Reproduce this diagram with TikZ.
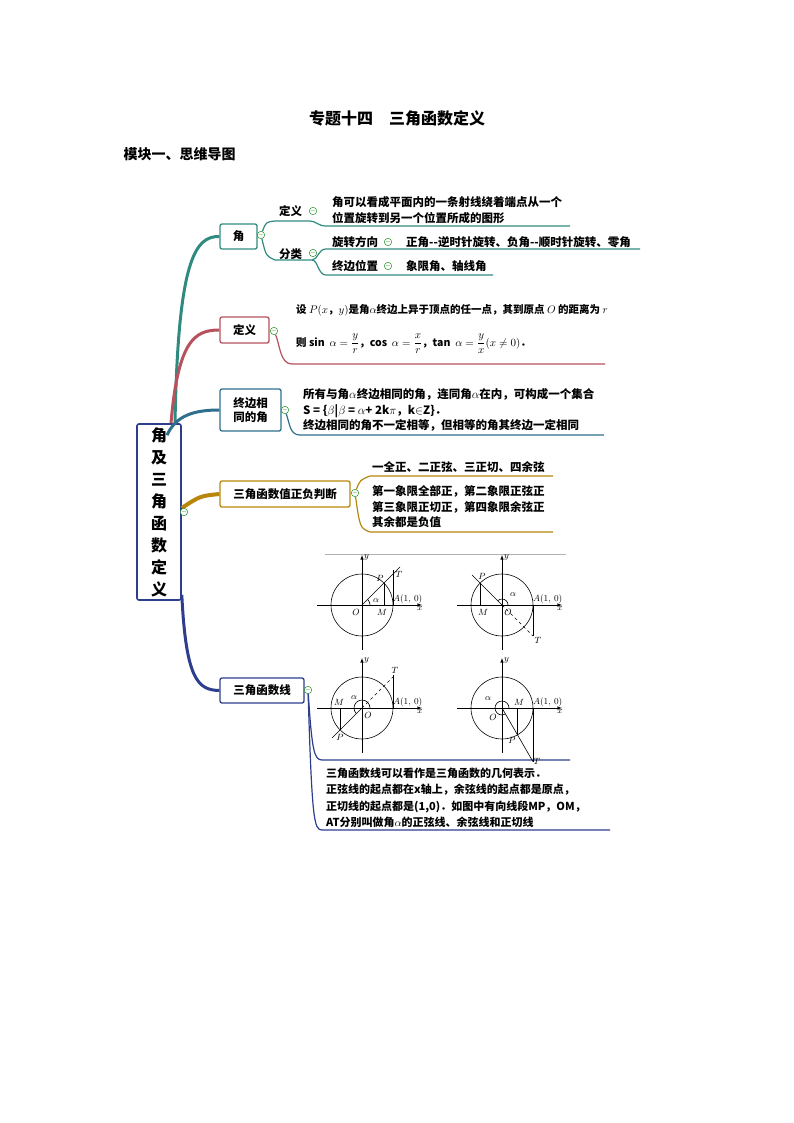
\documentclass[tikz,border=0pt]{standalone}
\usepackage{fontspec}
\setmainfont{Noto Sans CJK SC}
\usepackage{amsmath}
\begin{document}
\begin{tikzpicture}[x=1pt,y=-1pt,
  box/.style={draw=#1,line width=1.3pt,rounded corners=2pt,inner sep=0pt,font=\fontsize{11.5}{14}\selectfont\bfseries},
  col/.style={circle,draw=green!50!black,fill=white,inner sep=0pt,minimum size=7pt,line width=0.4pt,font=\fontsize{6}{6}\selectfont,text=green!50!black},
  txt/.style={anchor=west,inner sep=0pt,font=\fontsize{11.5}{15.5}\selectfont\bfseries},
  geo/.style={line width=0.6pt},
  gl/.style={font=\fontsize{9}{9}\selectfont,inner sep=1pt}]
\definecolor{teal1}{HTML}{2F8A80}
\definecolor{red1}{HTML}{B5525E}
\definecolor{blu1}{HTML}{2E6F8E}
\definecolor{gold1}{HTML}{B8860B}
\definecolor{navy1}{HTML}{2C3E8C}
\useasboundingbox (0,0) rectangle (794,1123);
\node[font=\fontsize{16}{18}\selectfont\bfseries] (title) at (397,118) {专题十四\quad 三角函数定义};
\node[anchor=west,font=\fontsize{14}{16}\selectfont\bfseries] (mod) at (120,154) {模块一、思维导图};
% root
\node[draw=navy1,line width=1.6pt,rounded corners=2pt,minimum width=44pt,minimum height=168pt,align=center,font=\fontsize{16}{22}\selectfont\bfseries] (root) at (159,512) {角\\及\\三\\角\\函\\数\\定\\义};
% boxes
\node[box=teal1,minimum width=37pt,minimum height=25pt] (b1) at (238.5,236.5) {角};
\node[box=red1,minimum width=49pt,minimum height=26pt] (b2) at (244.5,330) {定义};
\node[box=blu1,minimum width=61pt,minimum height=42pt,align=left] (b3) at (250.5,410) {终边相\\同的角};
\node[box=gold1,minimum width=130pt,minimum height=26pt] (b4) at (285,494) {三角函数值正负判断};
\node[box=navy1,minimum width=84pt,minimum height=25pt] (b5) at (262,690.5) {三角函数线};
% branches
\draw[teal1,line width=3pt] (root.north)+(16,0) .. controls (178,260) and (195,236) .. (b1.west);
\draw[red1,line width=3pt] (root.north)+(12,0) .. controls (178,340) and (195,330) .. (b2.west);
\draw[blu1,line width=3pt] (root.north)+(8,12) .. controls (176,415) and (195,410) .. (b3.west);
\draw[gold1,line width=4pt] (root.east)+(0,-4) .. controls (200,496) .. (b4.west);
\draw[navy1,line width=3pt] (root.south east)+(0,-6) .. controls (186,680) and (198,690) .. (b5.west);
% collapse circles
\node[col] (c1) at (261,235) {$-$};
\node[col] (c2) at (274,331) {$-$};
\node[col] (c3) at (285,410) {$-$};
\node[col] (c4) at (355,493) {$-$};
\node[col] (c5) at (308,690) {$-$};
\node[col] (c0) at (184,512) {$-$};
% branch 1 subtree
\node[txt] (d1) at (279,211) {定义};
\node[col] (d1c) at (313,211) {$-$};
\node[txt,align=left] (d1t) at (332,210) {角可以看成平面内的一条射线绕着端点从一个\\位置旋转到另一个位置所成的图形};
\node[txt] (f1) at (279,254) {分类};
\node[col] (f1c) at (313,253) {$-$};
\node[txt] (r1) at (332,242) {旋转方向};
\node[col] (r1c) at (388,242) {$-$};
\node[txt] (r1t) at (406,242) {正角{-}{-}逆时针旋转、负角{-}{-}顺时针旋转、零角};
\node[txt] (z1) at (332,266) {终边位置};
\node[col] (z1c) at (388,266) {$-$};
\node[txt] (z1t) at (406,266) {象限角、轴线角};
\coordinate (e1) at (570,226);
\coordinate (e2) at (640,249);
\coordinate (e3) at (493,275);
\draw[teal1,line width=1.2pt] (c1) .. controls (266,222) .. (275,221) -- (310,221) .. controls (316,221) and (318,226) .. (326,226) -- (e1);
\draw[teal1,line width=1.2pt] (c1) .. controls (266,256) .. (275,260) -- (312,260) .. controls (318,260) and (318,249) .. (326,249) -- (e2);
\draw[teal1,line width=1.2pt] (312,260) .. controls (318,260) and (318,275) .. (326,275) -- (e3);
% branch 2
\node[txt,font=\fontsize{10.5}{13}\selectfont\bfseries] (t2a) at (296,310) {设 $P(x$，$y)$是角$\alpha$终边上异于顶点的任一点，其到原点 $O$ 的距离为 $r$};
\node[txt,font=\fontsize{10.5}{13}\selectfont\bfseries] (t2b) at (296,344) {则 sin\ \ $\alpha=\dfrac{y}{r}$，cos\ \ $\alpha=\dfrac{x}{r}$，tan\ \ $\alpha=\dfrac{y}{x}(x\neq 0)$．};
\coordinate (e4) at (605,364);
\draw[red1,line width=1.2pt] (c2) .. controls (280,345) and (280,364) .. (292,364) -- (e4);
% branch 3
\node[txt,align=left] (t3) at (303,410) {所有与角$\alpha$终边相同的角，连同角$\alpha$在内，可构成一个集合\\S = \{$\beta$|$\beta$ = $\alpha$+ 2k$\pi$，k$\in$Z\}．\\终边相同的角不一定相等，但相等的角其终边一定相同};
\coordinate (e5) at (604,435);
\draw[blu1,line width=1.2pt] (c3) .. controls (290,425) and (290,435) .. (300,435) -- (e5);
% branch 4
\node[txt] (t4a) at (372,467) {一全正、二正弦、三正切、四余弦};
\node[txt,align=left] (t4b) at (372,507) {第一象限全部正，第二象限正弦正\\第三象限正切正，第四象限余弦正\\其余都是负值};
\coordinate (e6) at (553,476);
\coordinate (e7) at (553,532);
\draw[gold1,line width=1.2pt] (c4) .. controls (360,480) .. (370,476) -- (e6);
\draw[gold1,line width=1.2pt] (c4) .. controls (360,528) .. (370,532) -- (e7);
% branch 5
\coordinate (e8) at (570,760);
\coordinate (e9) at (610,830);
\draw[navy1,line width=1.2pt] (c5) .. controls (312,750) and (314,760) .. (322,760) -- (e8);
\draw[navy1,line width=1.2pt] (c5) .. controls (312,820) and (314,830) .. (322,830) -- (e9);
\node[txt,align=left,font=\fontsize{11}{16.5}\selectfont\bfseries] (t5) at (326,798) {三角函数线可以看作是三角函数的几何表示．\\正弦线的起点都在x轴上，余弦线的起点都是原点，\\正切线的起点都是(1,0)．如图中有向线段MP，OM，\\AT分别叫做角$\alpha$的正弦线、余弦线和正切线};
\draw[gray!60,line width=1pt] (325,554) -- (566,554);
% diagrams
\foreach \cx/\cy/\n in {362/605/1,502/605/2,362/708/3,502/708/4}{
 \begin{scope}[shift={(\cx,\cy)},y=1pt]
  \draw[geo] (0,0) circle (31);
  \draw[geo,-latex] (-45,0) -- (60,0);
  \draw[geo,-latex] (0,-45) -- (0,50);
  \node[gl,anchor=north] at (58,0) {$x$};
  \node[gl,anchor=west] at (1,48) {$y$};
  \node[gl,anchor=south west] at (30,0) {$A(1,\,0)$};
 \end{scope}}
% diag 1
\begin{scope}[shift={(362,605)},y=1pt]
 \draw[geo] (0,0) -- (38,38); \draw[geo] (31,0) -- (31,35); \draw[geo] (22,0) -- (22,22);
 \draw[geo] (8,0) arc (0:45:8);
 \node[gl] at (-6,-7) {$O$}; \node[gl] at (20,-7) {$M$}; \node[gl] at (18,27) {$P$}; \node[gl] at (37,31) {$T$}; \node[gl] at (14,4) {$\alpha$};
\end{scope}
% diag 2
\begin{scope}[shift={(502,605)},y=1pt]
 \draw[geo] (0,0) -- (-30,30); \draw[geo,dashed] (0,0) -- (31,-31); \draw[geo] (31,0) -- (31,-31); \draw[geo] (-22,0) -- (-22,22);
 \draw[geo] (6,0) arc (0:135:6);
 \node[gl] at (6,-7) {$O$}; \node[gl] at (-19,-7) {$M$}; \node[gl] at (-20,29) {$P$}; \node[gl] at (36,-35) {$T$}; \node[gl] at (11,10) {$\alpha$};
\end{scope}
% diag 3
\begin{scope}[shift={(362,708)},y=1pt]
 \draw[geo] (0,0) -- (-30,-30); \draw[geo,dashed] (0,0) -- (31,31); \draw[geo] (31,0) -- (31,33); \draw[geo] (-22,0) -- (-22,-22);
 \draw[geo] (8,0) arc (0:225:8);
 \node[gl] at (6,-7) {$O$}; \node[gl] at (-23,6) {$M$}; \node[gl] at (-22,-29) {$P$}; \node[gl] at (33,38) {$T$}; \node[gl] at (-8,10) {$\alpha$};
\end{scope}
% diag 4
\begin{scope}[shift={(502,708)},y=1pt]
 \draw[geo] (0,0) -- (31,-53.7); \draw[geo] (31,0) -- (31,-53.7); \draw[geo] (15.5,0) -- (15.5,-26.8);
 \draw[geo] (7,0) arc (0:300:7);
 \node[gl] at (-9,-9) {$O$}; \node[gl] at (17,6) {$M$}; \node[gl] at (10,-32) {$P$}; \node[gl] at (35,-53) {$T$}; \node[gl] at (-14,9) {$\alpha$};
\end{scope}
\end{tikzpicture}
\end{document}
